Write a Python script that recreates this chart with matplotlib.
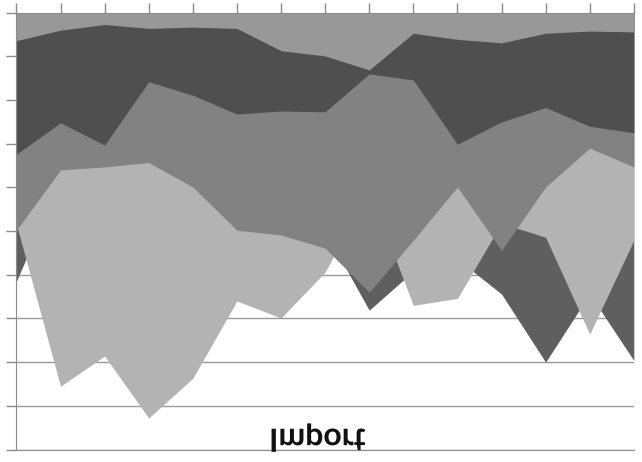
import matplotlib
matplotlib.use("Agg")
import matplotlib.pyplot as plt
from matplotlib.patheffects import AbstractPathEffect
from matplotlib.path import Path
from matplotlib.transforms import Affine2D


# Overlapping area chart, drawn upside down (value axis grows downward)
categories = list(range(1, 16))

# series drawn back to front
s_back = [61.5, 38, 43, 47, 48, 48, 49, 50, 68.1, 59.2, 56.4, 64.4, 80.0, 64.4, 79.6]
s_light = [48.4, 85.5, 78.6, 92.8, 83.7, 66.0, 69.9, 59.4, 40.6, 67.0, 65.4, 48.2, 51.4, 73.6, 52.1]
s_mid = [49.8, 36.0, 35.3, 34.3, 39.9, 49.8, 50.9, 53.9, 64.0, 52.1, 39.9, 54.4, 39.9, 31.0, 35.3]
s_dark = [32.4, 25.2, 30.3, 15.8, 18.9, 23.2, 22.5, 22.7, 14.0, 15.4, 30.1, 25.0, 21.7, 26.0, 27.5]
s_front = [6.4, 4.0, 2.7, 3.6, 3.3, 3.6, 8.7, 9.9, 13.1, 4.7, 6.1, 6.9, 4.7, 4.2, 4.4]

series = [s_back, s_light, s_mid, s_dark, s_front]
colors = ['#5f5f5f', '#b3b3b3', '#828282', '#4f4f4f', '#989898']

title = 'Import'


class FlipVertical(AbstractPathEffect):
    # mirror the rendered glyphs top-to-bottom about their own middle
    def draw_path(self, renderer, gc, tpath, affine, rgbFace=None):
        verts = tpath.vertices
        if tpath.codes is not None:
            verts = verts[tpath.codes != Path.CLOSEPOLY]
        ys = affine.transform(verts)[:, 1]
        mid = (ys.min() + ys.max()) / 2.0
        flipped = affine + Affine2D().translate(0, -mid).scale(1, -1).translate(0, mid)
        renderer.draw_path(gc, tpath, flipped, rgbFace)


fig = plt.figure(figsize=(6.42, 4.62), dpi=100)
ax = fig.add_axes([16.4 / 642, 1 - 449.5 / 462, (633.8 - 16.4) / 642, (449.5 - 12.7) / 462])

x = list(range(len(categories)))
for vals, col in zip(series, colors):
    ax.fill_between(x, 0, vals, color=col, lw=0, zorder=2)

ax.set_xlim(0, len(categories) - 1)
ax.set_ylim(100, 0)

ax.xaxis.tick_top()
ax.set_xticks(x)
ax.set_yticks(range(0, 101, 10))
ax.set_xticklabels([])
ax.set_yticklabels([])
ax.tick_params(axis='both', direction='out', length=7, width=1, color='#8c8c8c')

ax.set_axisbelow(True)
ax.yaxis.grid(True, color='#999999', lw=1)

for side in ['top', 'left', 'bottom']:
    ax.spines[side].set_color('#8c8c8c')
    ax.spines[side].set_zorder(3)
ax.spines['right'].set_visible(False)

fig.text(317.5 / 642, 1 - 437 / 462, title, ha='center', va='center',
         fontsize=23, fontweight='bold', family=['Lato', 'DejaVu Sans'],
         color='#111111', path_effects=[FlipVertical()])

fig.savefig('out.png', dpi=100)
